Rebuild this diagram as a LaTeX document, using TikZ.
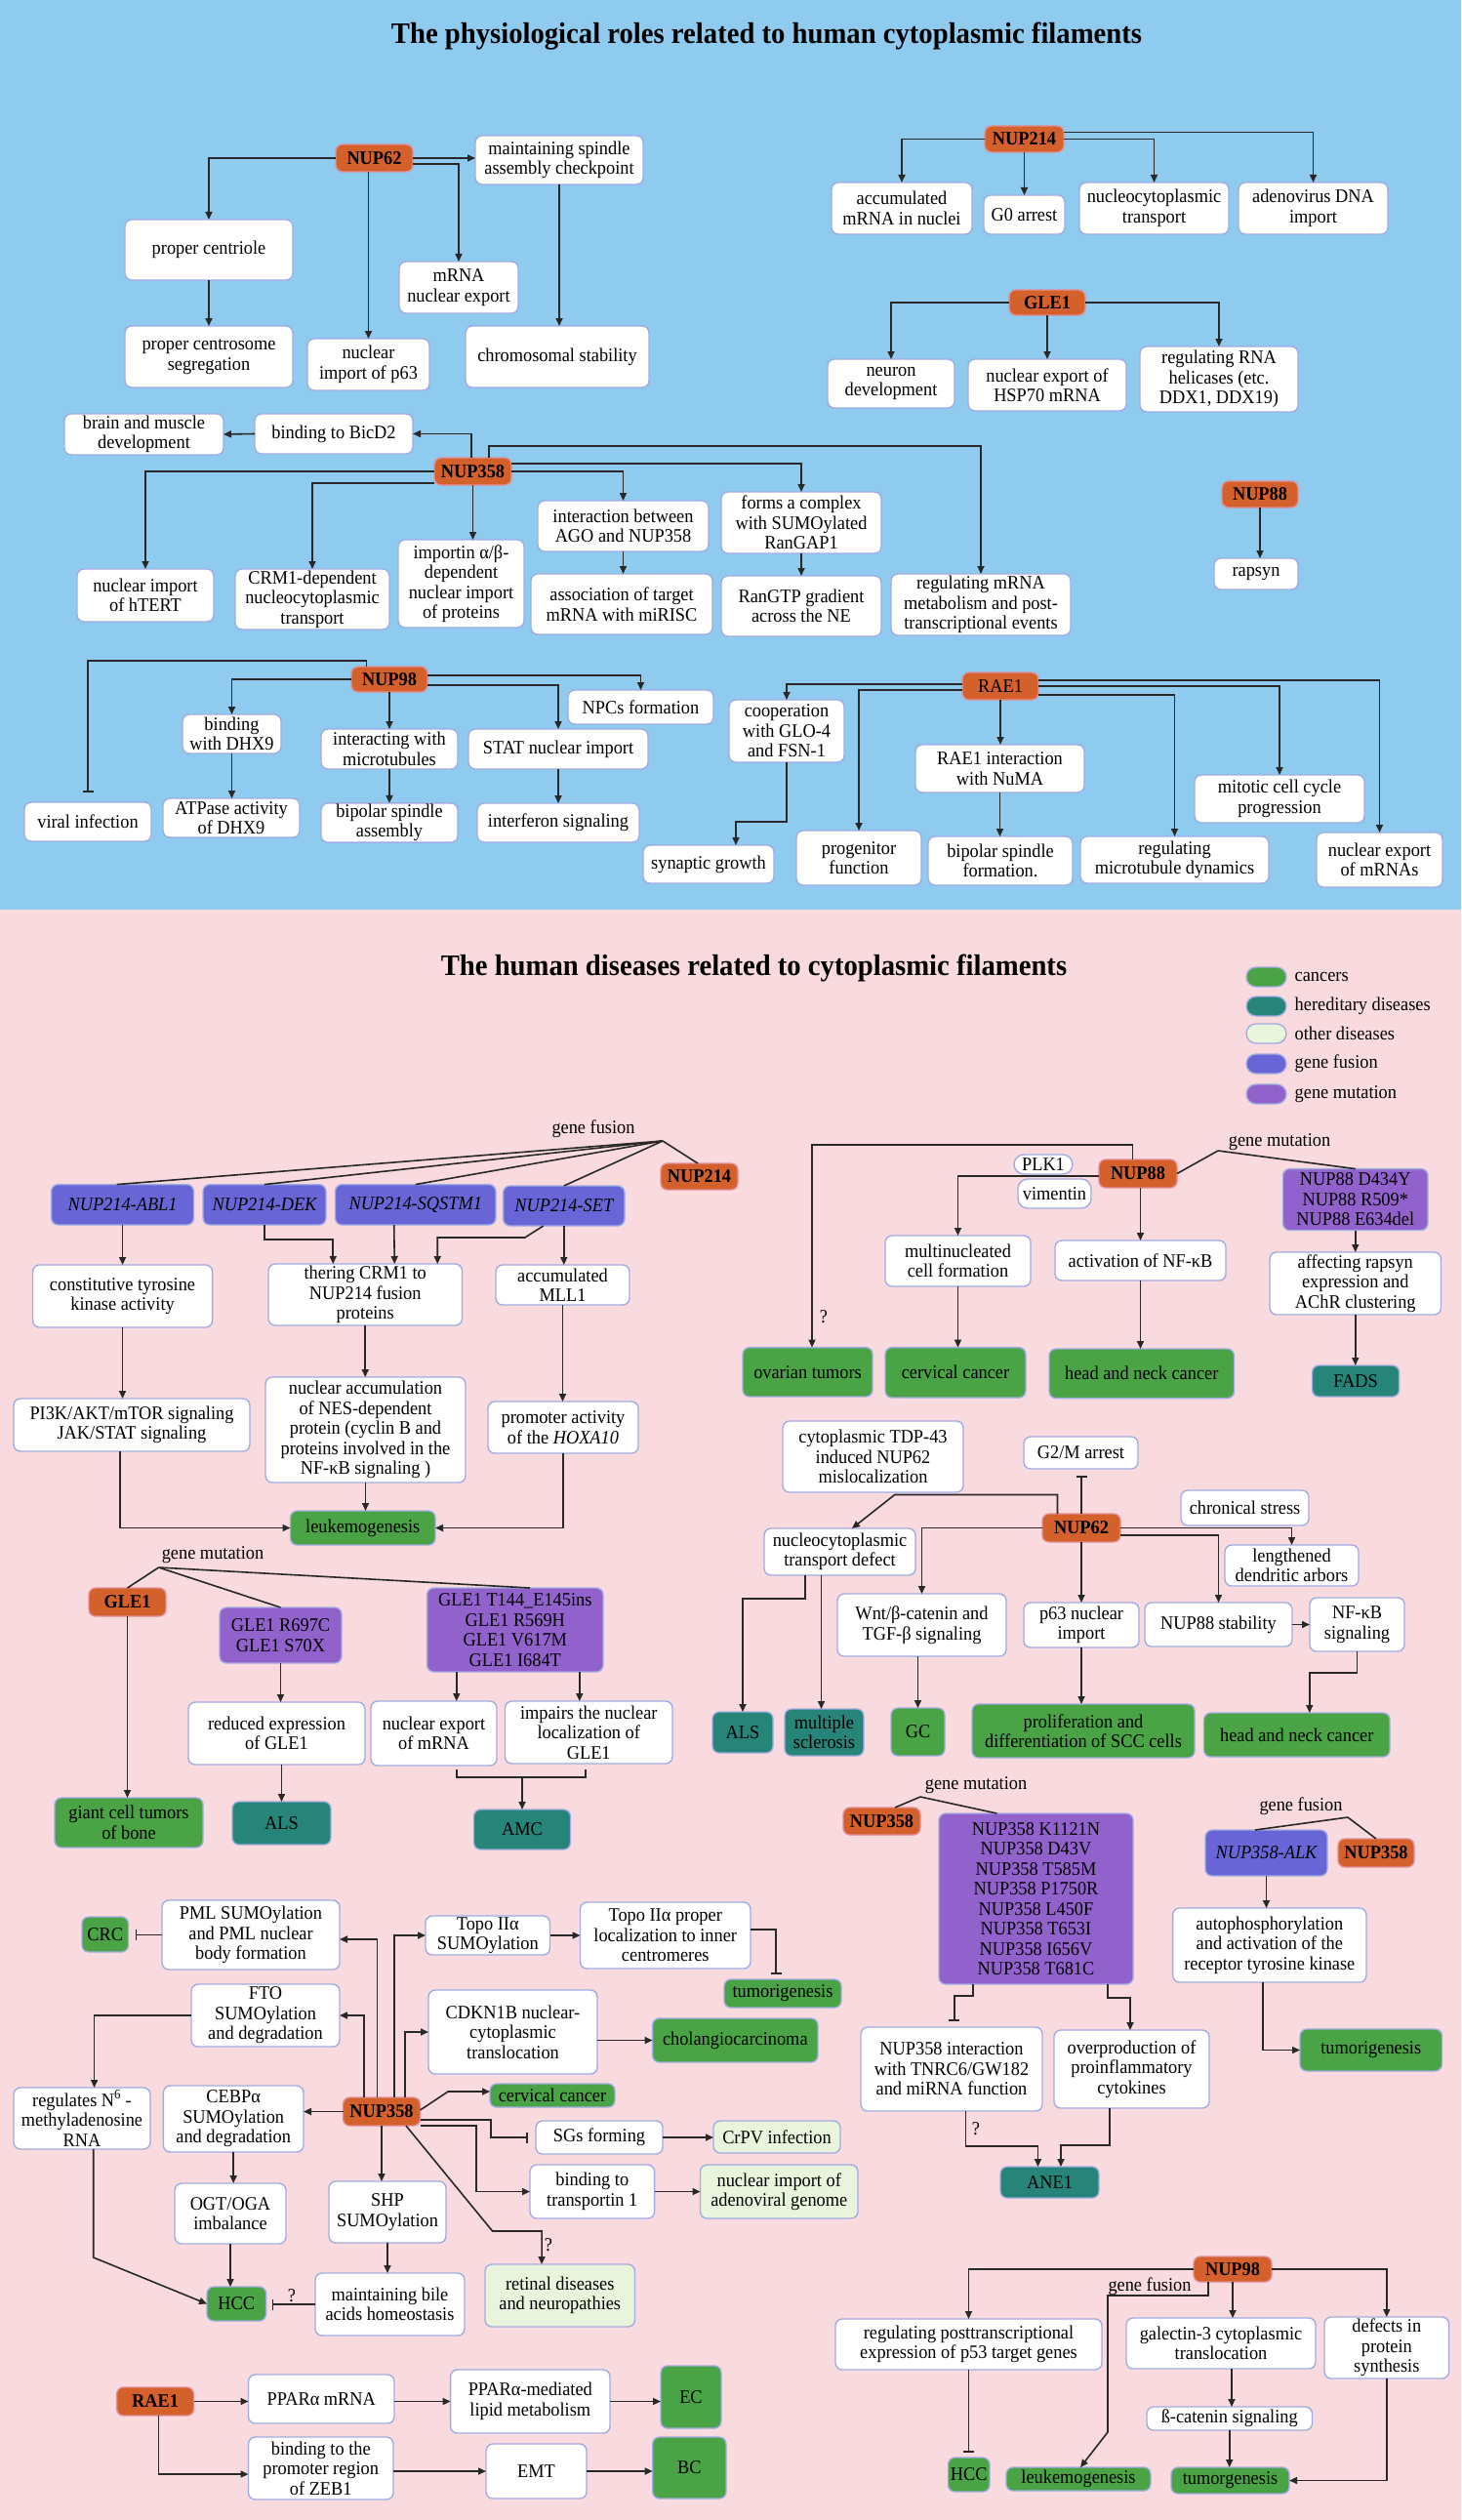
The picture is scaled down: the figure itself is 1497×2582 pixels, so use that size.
\documentclass[tikz,border=0pt]{standalone}
\usepackage{fontspec}
\setmainfont[FakeStretch=0.94]{Liberation Serif}
\usetikzlibrary{arrows.meta}
\definecolor{bluebg}{RGB}{142,203,239}
\definecolor{pinkbg}{RGB}{249,219,223}
\definecolor{orng}{RGB}{212,96,44}
\definecolor{orgbord}{RGB}{226,142,150}
\definecolor{wbord}{RGB}{160,172,225}
\definecolor{fusc}{RGB}{104,102,214}
\definecolor{mutc}{RGB}{146,98,204}
\definecolor{canc}{RGB}{74,163,68}
\definecolor{herc}{RGB}{38,132,120}
\definecolor{othc}{RGB}{232,245,220}
\definecolor{linec}{RGB}{40,40,40}
\newcommand\myfs{\fontsize{19.5pt}{20.5pt}\selectfont}
\newcommand\mkbox[7]{\node[#1, minimum width={(#5)-(#3)}, minimum height={(#6)-(#4)}] (#2) at ({((#3)+(#5))/2},{((#4)+(#6))/2}) {#7};}
\tikzset{
 bx/.style={rectangle, rounded corners=7pt, line width=1.4pt, draw=wbord, align=center, inner sep=1pt, outer sep=0pt, font=\myfs, text=black},
 wb/.style={bx, fill=white},
 org/.style={bx, fill=orng, draw=orgbord, font=\myfs\bfseries},
 orgr/.style={bx, fill=orng, draw=orgbord},
 fus/.style={bx, fill=fusc},
 mut/.style={bx, fill=mutc},
 can/.style={bx, fill=canc},
 her/.style={bx, fill=herc},
 oth/.style={bx, fill=othc},
 pill/.style={bx, fill=white, rounded corners=10pt},
 lbl/.style={font=\myfs, inner sep=0pt},
 ttl/.style={font=\fontsize{30.5pt}{32pt}\selectfont\bfseries, anchor=base, inner sep=0pt},
 arr/.style={draw=linec, line width=1.6pt, -{Triangle[length=8pt,width=7pt]}},
 inh/.style={draw=linec, line width=1.6pt, -{Bar[width=11pt]}},
 ln/.style={draw=linec, line width=1.6pt},
}
\begin{document}
\begin{tikzpicture}[x=1pt,y=-1pt]
\fill[bluebg] (0,0) rectangle (1497,932);
\fill[pinkbg] (0,932) rectangle (1497,2582);
\useasboundingbox (0,0) rectangle (1497,2582);

% ================= TOP PANEL =================
\node[ttl] (ttl1) at (785.5,45) {The physiological roles related to human cytoplasmic filaments};

\mkbox{org}{t62}{344}{148}{423}{176}{NUP62}
\mkbox{wb}{tmsac}{487}{139}{659}{189}{maintaining spindle\\assembly checkpoint}
\mkbox{wb}{tcent}{128}{225}{300}{287}{proper centriole}
\mkbox{wb}{tcseg}{128}{334}{300}{397}{proper centrosome\\segregation}
\mkbox{wb}{tmrna}{409}{268}{531}{321}{mRNA\\nuclear export}
\mkbox{wb}{tp63}{315}{347}{440}{400}{nuclear\\import of p63}
\mkbox{wb}{tchrom}{477}{334}{665}{397}{chromosomal stability}

\mkbox{org}{t214}{1009}{129}{1090}{156}{NUP214}
\mkbox{wb}{tacc}{852}{187}{996}{240}{accumulated\\mRNA in nuclei}
\mkbox{wb}{tg0}{1008}{200}{1091}{240}{G0 arrest}
\mkbox{wb}{tncyt}{1106}{187}{1259}{240}{nucleocytoplasmic\\transport}
\mkbox{wb}{tadeno}{1269}{187}{1422}{240}{adenovirus DNA\\import}
\mkbox{org}{tgle}{1034}{297}{1112}{323}{GLE1}
\mkbox{wb}{tneuron}{848}{368}{978}{418}{neuron\\development}
\mkbox{wb}{thsp}{992}{368}{1154}{421}{nuclear export of\\HSP70 mRNA}
\mkbox{wb}{thel}{1168}{355}{1330}{422}{regulating RNA\\helicases (etc.\\DDX1, DDX19)}

\mkbox{org}{t358}{445}{469}{524}{497}{NUP358}
\mkbox{wb}{tbicd}{261}{424}{423}{465}{binding to BicD2}
\mkbox{wb}{tbrain}{66}{424}{229}{466}{brain and muscle\\development}
\mkbox{wb}{thtert}{79}{583}{219}{637}{nuclear import\\of hTERT}
\mkbox{wb}{tcrm}{241}{583}{399}{645}{CRM1-dependent\\nucleocytoplasmic\\transport}
\mkbox{wb}{timp}{408}{553}{537}{643}{importin α/β-\\dependent\\nuclear import\\of proteins}
\mkbox{wb}{tago}{551}{513}{726}{565}{interaction between\\AGO and NUP358}
\mkbox{wb}{tassoc}{544}{588}{730}{650}{association of target\\mRNA with miRISC}
\mkbox{wb}{tranc}{739}{504}{903}{567}{forms a complex\\with SUMOylated\\RanGAP1}
\mkbox{wb}{trangtp}{739}{590}{903}{652}{RanGTP gradient\\across the NE}
\mkbox{wb}{tregm}{913}{588}{1097}{651}{regulating mRNA\\metabolism and post-\\transcriptional events}
\mkbox{org}{t88}{1252}{493}{1330}{520}{NUP88}
\mkbox{wb}{trapsyn}{1244}{572}{1330}{604}{rapsyn}

\mkbox{org}{t98}{360}{683}{438}{709}{NUP98}
\mkbox{wb}{tviral}{25}{822}{155}{862}{viral infection}
\mkbox{wb}{tdhx}{187}{732}{288}{772}{binding\\with DHX9}
\mkbox{wb}{tatp}{167}{818}{307}{858}{ATPase activity\\of DHX9}
\mkbox{wb}{tmicro}{329}{747}{469}{788}{interacting with\\microtubules}
\mkbox{wb}{tbip}{329}{823}{469}{863}{bipolar spindle\\assembly}
\mkbox{wb}{tnpc}{582}{707}{731}{742}{NPCs formation}
\mkbox{wb}{tstat}{480}{747}{664}{788}{STAT nuclear import}
\mkbox{wb}{tifn}{489}{823}{655}{863}{interferon signaling}

\mkbox{orgr}{trae}{986}{689}{1064}{717}{RAE1}
\mkbox{wb}{tcoop}{747}{717}{865}{781}{cooperation\\with GLO-4\\and FSN-1}
\mkbox{wb}{tsyn}{659}{866}{793}{905}{synaptic growth}
\mkbox{wb}{tprog}{816}{851}{944}{907}{progenitor\\function}
\mkbox{wb}{tnuma}{938}{763}{1111}{812}{RAE1 interaction\\with NuMA}
\mkbox{wb}{tbsf}{951}{857}{1099}{907}{bipolar spindle\\formation.}
\mkbox{wb}{tmcc}{1224}{794}{1398}{843}{mitotic cell cycle\\progression}
\mkbox{wb}{tmtd}{1107}{857}{1300}{905}{regulating\\microtubule dynamics}
\mkbox{wb}{tnexp}{1349}{853}{1478}{909}{nuclear export\\of mRNAs}

\draw[arr] (t62.west) -| (tcent.north);
\draw[arr] (tcent.south) -- (tcseg.north);
\draw[arr] (tp63.north |- t62.south) -- (tp63.north);
\draw[arr] (t62.east) -- (t62.east -| tmsac.west);
\draw[arr] ([yshift=-6pt]t62.east) -| (tmrna.north);
\draw[arr] (tmsac.south) -- (tmsac.south |- tchrom.north);
\draw[arr] (t214.west) -| (tacc.north);
\draw[arr] (t214.south) -- (tg0.north);
\draw[arr] (t214.east) -| (tncyt.north);
\draw[arr] ([yshift=7pt]t214.east) -| (tadeno.north);
\draw[arr] (tgle.west) -| (tneuron.north);
\draw[arr] (tgle.south) -- (thsp.north);
\draw[arr] (tgle.east) -| (thel.north);
\draw[arr] ([xshift=-1.5pt]t358.north) |- (tbicd.east);
\draw[arr] (tbicd.west) -- (tbrain.east);
\draw[arr] ([xshift=16.5pt]t358.north) |- ([yshift=131pt]tregm.north) -- (tregm.north);
\draw[arr] ([yshift=8pt]t358.east) -| (tranc.north);
\draw[arr] (tranc.south) -- (trangtp.north);
\draw[arr] (t358.east) -| (tago.north);
\draw[arr] (tago.south) -- (tago.south |- tassoc.north);
\draw[arr] (t358.south) -- (t358.south |- timp.north);
\draw[arr] (t358.west) -| (thtert.north);
\draw[arr] ([yshift=-12pt]t358.west) -| (tcrm.north);
\draw[arr] (t88.south) -- (t88.south |- trapsyn.north);
\draw[inh, shorten >=10pt] ([xshift=-23.5pt]t98.north) |- ([yshift=145pt]tviral.north) -- (tviral.north);
\draw[arr] (t98.west) -| (tdhx.north);
\draw[arr] (tdhx.south) -- (tdhx.south |- tatp.north);
\draw[arr] (t98.south) -- (tmicro.north);
\draw[arr] (tmicro.south) -- (tbip.north);
\draw[arr] ([yshift=4pt]t98.east) -| (tnpc.north);
\draw[arr] ([yshift=-6pt]t98.east) -| (tstat.north);
\draw[arr] (tstat.south) -- (tstat.south |- tifn.north);
\draw[arr] ([yshift=2pt]trae.west) -| (tcoop.north);
\draw[arr] (tcoop.south) |- ([xshift=28pt,yshift=24pt]tsyn.north) -- ([xshift=28pt]tsyn.north);
\draw[arr] ([yshift=-4pt]trae.west) -| (tprog.north);
\draw[arr] (trae.south) -- (trae.south |- tnuma.north);
\draw[arr] (tnuma.south) -- (tnuma.south |- tbsf.north);
\draw[arr] ([yshift=6pt]trae.east) -| (tnexp.north);
\draw[arr] (trae.east) -| (tmcc.north);
\draw[arr] ([yshift=-9pt]trae.east) -| (tmtd.north);

% ================= BOTTOM PANEL =================
\node[ttl] (ttl2) at (772.5,999) {The human diseases related to cytoplasmic filaments};

\mkbox{pill, fill=canc}{lg1}{1277}{991}{1318}{1011}{}
\mkbox{pill, fill=herc}{lg2}{1277}{1021}{1318}{1041}{}
\mkbox{pill, fill=othc}{lg3}{1277}{1049}{1318}{1069}{}
\mkbox{pill, fill=fusc}{lg4}{1277}{1080}{1318}{1100}{}
\mkbox{pill, fill=mutc}{lg5}{1277}{1111}{1318}{1131}{}
\node[lbl, anchor=west] (lt1) at (1326.5,1001) {cancers};
\node[lbl, anchor=west] (lt2) at (1326.5,1031) {hereditary diseases};
\node[lbl, anchor=west] (lt3) at (1326.5,1059) {other diseases};
\node[lbl, anchor=west] (lt4) at (1326.5,1090) {gene fusion};
\node[lbl, anchor=west] (lt5) at (1326.5,1121) {gene mutation};

% NUP214 fusions
\node[lbl] (lgf1) at (608,1157) {gene fusion};
\coordinate (fan1) at (679,1169);
\mkbox{org}{b214}{677}{1192}{756}{1219}{NUP214}
\mkbox{fus}{fABL}{52.6}{1213.6}{198.5}{1255}{\itshape NUP214-ABL1}
\mkbox{fus}{fDEK}{208}{1213.6}{334}{1255}{\itshape NUP214-DEK}
\mkbox{fus}{fSQ}{343.5}{1213.6}{508}{1255}{\itshape NUP214-SQSTM1}
\mkbox{fus}{fSET}{515.6}{1215}{640}{1256}{\itshape NUP214-SET}
\mkbox{wb}{bconst}{33.5}{1296}{217.6}{1360}{constitutive tyrosine\\kinase activity}
\mkbox{wb}{bther}{275}{1295}{473.5}{1358}{thering CRM1 to\\NUP214 fusion\\proteins}
\mkbox{wb}{bmll}{508}{1296}{645}{1337}{accumulated\\MLL1}
\mkbox{wb}{bpi3k}{14}{1433}{256}{1487}{PI3K/AKT/mTOR signaling\\JAK/STAT signaling}
\mkbox{wb}{bnes}{272}{1411}{477}{1519}{nuclear accumulation\\of NES-dependent\\protein (cyclin B and\\proteins involved in the\\NF-κB signaling )}
\mkbox{wb}{bhox}{500}{1436}{654}{1489}{promoter activity\\of the \textit{HOXA10}}
\mkbox{can}{bleuk1}{297.5}{1548}{446}{1583}{leukemogenesis}

\draw[ln] (fan1) -- ([xshift=-6pt]fABL.north);
\draw[ln] (fan1) -- (fDEK.north);
\draw[ln] (fan1) -- (fSQ.north);
\draw[ln] (fan1) -- (fSET.north);
\draw[ln] (fan1) -- ([xshift=-1.5pt]b214.north);
\draw[arr] (fABL.south) -- (fABL.south |- bconst.north);
\draw[arr] (fDEK.south) -- ++(0,15) -| ([xshift=-33pt]bther.north);
\draw[arr] ([xshift=-22pt]fSQ.south) -- ([xshift=30pt]bther.north);
\draw[arr] ([xshift=-21pt]fSET.south) -- ++(-19,12) -| ([xshift=74pt]bther.north);
\draw[arr] (fSET.south) -- (fSET.south |- bmll.north);
\draw[arr] (bconst.south) -- (bconst.south |- bpi3k.north);
\draw[arr] (bther.south) -- (bther.south |- bnes.north);
\draw[arr] (bmll.south) -- (bmll.south |- bhox.north);
\draw[arr] (bnes.south) -- (bnes.south |- bleuk1.north);
\draw[arr] ([xshift=-12pt]bpi3k.south) |- (bleuk1.west);
\draw[arr] (bhox.south) |- (bleuk1.east);

% GLE1 mutations
\node[lbl] (lgm1) at (218,1593) {gene mutation};
\coordinate (fan2) at (162.6,1606);
\mkbox{org}{bgle}{91}{1627}{170}{1656}{GLE1}
\mkbox{mut}{gR}{225}{1647}{350}{1704}{GLE1 R697C\\GLE1 S70X}
\mkbox{mut}{gT}{437.6}{1627}{618}{1713}{GLE1 T144\_E145ins\\GLE1 R569H\\GLE1 V617M\\GLE1 I684T}
\mkbox{can}{bgct}{56}{1842}{208}{1893}{giant cell tumors\\of bone}
\mkbox{wb}{bred}{193}{1744}{374}{1808}{reduced expression\\of GLE1}
\mkbox{her}{bals1}{238}{1846}{339}{1890}{ALS}
\mkbox{wb}{bnexp}{380}{1743}{509}{1809}{nuclear export\\of mRNA}
\mkbox{wb}{bimp}{517.5}{1743}{689}{1807}{impairs the nuclear\\localization of\\GLE1}
\mkbox{her}{bamc}{485.5}{1854}{584.5}{1895}{AMC}
\draw[ln] (fan2) -- (bgle.north);
\draw[ln] (fan2) -- (gR.north);
\draw[ln] (fan2) -- ([xshift=15pt]gT.north);
\draw[arr] (bgle.south) -- (bgle.south |- bgct.north);
\draw[arr] (gR.south) -- (gR.south |- bred.north);
\draw[arr] (bals1.north |- bred.south) -- (bals1.north);
\draw[arr] ([xshift=-60pt]gT.south) -- ([xshift=-60pt]gT.south |- bnexp.north);
\draw[arr] ([xshift=66pt]gT.south) -- ([xshift=66pt]gT.south |- bimp.north);
\draw[ln] ([xshift=23.5pt,yshift=-4pt]bnexp.south) -- ++(0,8) -| ([xshift=-3pt,yshift=-6pt]bimp.south);
\draw[arr] ([yshift=33pt]bamc.north) -- (bamc.north);

% NUP88
\node[lbl] (lgm2) at (1311,1170) {gene mutation};
\coordinate (fan3) at (1248,1179);
\mkbox{org}{b88}{1126}{1188}{1206}{1217}{NUP88}
\mkbox{mut}{m88}{1314.5}{1197.6}{1463}{1260.5}{NUP88 D434Y\\NUP88 R509*\\NUP88 E634del}
\mkbox{pill}{bplk}{1039}{1183}{1099}{1203}{PLK1}
\mkbox{pill}{bvim}{1043}{1208}{1118}{1238}{vimentin}
\mkbox{wb}{bmulti}{907}{1266}{1056}{1318}{multinucleated\\cell formation}
\mkbox{wb}{bnfkb}{1081}{1271}{1256}{1312}{activation of NF-κB}
\mkbox{wb}{baff}{1301}{1283}{1476.5}{1347}{affecting rapsyn\\expression and\\AChR clustering}
\mkbox{can}{bov}{761}{1380.6}{894}{1431}{ovarian tumors}
\mkbox{can}{bcerv}{907}{1380.6}{1051}{1432}{cervical cancer}
\mkbox{can}{bhn1}{1075}{1382}{1264.5}{1432.6}{head and neck cancer}
\mkbox{her}{bfads}{1344.5}{1399}{1433.6}{1431}{FADS}
\node[lbl] (q1) at (844,1349) {?};
\draw[ln] (fan3) -- (b88.east);
\draw[ln] (fan3) -- (m88.north);
\draw[arr] ([xshift=-5.5pt]b88.north) -- ++(0,-15) -| ([xshift=4.5pt]bov.north);
\draw[arr] ([yshift=-2.5pt]b88.west) -| (bmulti.north);
\draw[arr] (bnfkb.north |- b88.south) -- (bnfkb.north);
\draw[arr] (m88.south) -- (m88.south |- baff.north);
\draw[arr] (bmulti.south) -- (bmulti.south |- bcerv.north);
\draw[arr] (bnfkb.south) -- (bnfkb.south |- bhn1.north);
\draw[arr] (baff.south) -- (baff.south |- bfads.north);

% NUP62
\mkbox{org}{b62}{1068}{1551}{1148}{1580}{NUP62}
\mkbox{wb}{btdp}{802}{1456}{987}{1529}{cytoplasmic TDP-43\\induced NUP62\\mislocalization}
\mkbox{wb}{bg2m}{1049}{1472}{1166}{1505}{G2/M arrest}
\mkbox{wb}{bchron}{1210}{1527}{1341}{1563}{chronical stress}
\mkbox{wb}{bncd}{783}{1566}{938}{1614}{nucleocytoplasmic\\transport defect}
\mkbox{wb}{blen}{1255}{1583}{1392}{1625}{lengthened\\dendritic arbors}
\mkbox{wb}{bwnt}{858}{1633}{1031}{1697}{Wnt/β-catenin and\\TGF-β signaling}
\mkbox{wb}{bp63n}{1049}{1642}{1167}{1688}{p63 nuclear\\import}
\mkbox{wb}{bn88s}{1173}{1642}{1324}{1687}{NUP88 stability}
\mkbox{wb}{bnfs}{1342}{1637}{1439}{1692}{NF-κB\\signaling}
\mkbox{her}{bals2}{730}{1754}{792}{1796}{ALS}
\mkbox{her}{bms}{804}{1751}{885}{1799}{multiple\\sclerosis}
\mkbox{can}{bgc}{913}{1750}{968}{1799}{GC}
\mkbox{can}{bprol}{996}{1746}{1224}{1801}{proliferation and\\differentiation of SCC cells}
\mkbox{can}{bhn2}{1233.5}{1755}{1424}{1800}{head and neck cancer}
\draw[inh, shorten >=7pt] (b62.north) -- (b62.north |- bg2m.south);
\draw[arr] ([xshift=-24.5pt]b62.north) -- ++(0,-19.5) -- ++(-166.8,0) -- ([xshift=12.5pt]bncd.north);
\draw[arr] (b62.east) -| (blen.north);
\draw[arr] ([yshift=-7.5pt]b62.east) -| (bn88s.north);
\draw[arr] (b62.west) -| (bwnt.north);
\draw[arr] (b62.south) -- (b62.south |- bp63n.north);
\draw[arr] (bp63n.south) -- (bp63n.south |- bprol.north);
\draw[arr] (bgc.north |- bwnt.south) -- (bgc.north);
\draw[arr] (bn88s.east) -- (bnfs.west);
\draw[arr] (bnfs.south) -- ++(0,22) -| ([xshift=13pt]bhn2.north);
\draw[arr] ([xshift=-35.5pt]bncd.south) -- ++(0,24) -| (bals2.north);
\draw[arr] ([xshift=-19pt]bncd.south) -- ([xshift=-3pt]bms.north);

% NUP358 mutations
\node[lbl] (lgm3) at (1000,1829) {gene mutation};
\coordinate (fan4) at (943,1841);
\mkbox{org}{b358a}{864}{1852}{943}{1880}{NUP358}
\mkbox{mut}{m358}{962}{1858}{1161}{2033}{NUP358 K1121N\\NUP358 D43V\\NUP358 T585M\\NUP358 P1750R\\NUP358 L450F\\NUP358 T653I\\NUP358 I656V\\NUP358 T681C}
\mkbox{wb}{btnrc}{882}{2077}{1068}{2163}{NUP358 interaction\\with TNRC6/GW182\\and miRNA function}
\mkbox{wb}{bover}{1080}{2080}{1239}{2160}{overproduction of\\proinflammatory\\cytokines}
\mkbox{her}{bane}{1025}{2220}{1126}{2252}{ANE1}
\node[lbl] (q2) at (1000,2181) {?};
\draw[ln] (fan4) -- ([xshift=13.5pt]b358a.north);
\draw[ln] (fan4) -- ([xshift=-40pt]m358.north);
\draw[inh, shorten >=6pt] ([xshift=-64.5pt]m358.south) -- ++(0,12) -| ([xshift=2.7pt]btnrc.north);
\draw[arr] ([xshift=73.5pt]m358.south) -- ++(0,14) -| ([xshift=-1.5pt]bover.north);
\draw[arr] ([xshift=14.6pt]btnrc.south) -- ++(0,36) -| ([xshift=-12pt]bane.north);
\draw[arr] ([xshift=-22.5pt]bover.south) -- ++(0,38) -| ([xshift=11.5pt]bane.north);

% NUP358-ALK
\node[lbl] (lgf2) at (1333,1851) {gene fusion};
\coordinate (fan5) at (1381,1862);
\mkbox{fus}{balk}{1235}{1875}{1360}{1922}{\itshape NUP358-ALK}
\mkbox{org}{b358b}{1371}{1884}{1449}{1913}{NUP358}
\mkbox{wb}{bauto}{1201.6}{1955}{1400}{2031}{autophosphorylation\\and activation of the\\receptor tyrosine kinase}
\mkbox{can}{btum2}{1332}{2079}{1477.5}{2122}{tumorigenesis}
\draw[ln] (fan5) -- ([xshift=-11.5pt]balk.north);
\draw[ln] (fan5) -- (b358b.north);
\draw[arr] (balk.south) -- (balk.south |- bauto.north);
\draw[arr] ([xshift=-7pt]bauto.south) |- (btum2.west);

% NUP358 SUMOylation etc.
\mkbox{can}{bcrc}{84}{1964}{131.5}{2000}{CRC}
\mkbox{wb}{bpml}{166}{1947}{348}{2018}{PML SUMOylation\\and PML nuclear\\body formation}
\mkbox{wb}{btopo}{436}{1963}{563.5}{2003}{Topo IIα\\SUMOylation}
\mkbox{wb}{btopop}{594.5}{1949}{769}{2017}{Topo IIα proper\\localization to inner\\centromeres}
\mkbox{can}{btum1}{742}{2028}{862}{2057}{tumorigenesis}
\mkbox{wb}{bfto}{196}{2033}{348}{2097}{FTO\\SUMOylation\\and degradation}
\mkbox{wb}{bcdk}{439}{2039}{612}{2125}{CDKN1B nuclear-\\cytoplasmic\\translocation}
\mkbox{can}{bchol}{668.6}{2068}{838}{2113}{cholangiocarcinoma}
\mkbox{wb}{bn6}{14}{2139}{154}{2202}{regulates N\textsuperscript{6} -\\methyladenosine\\RNA}
\mkbox{wb}{bcebp}{167.4}{2137}{311}{2205}{CEBPα\\SUMOylation\\and degradation}
\mkbox{org}{b358c}{351.5}{2149}{430.5}{2178}{NUP358}
\mkbox{can}{bcerv2}{502}{2135}{630}{2159}{cervical cancer}
\mkbox{wb}{bsgs}{549}{2173}{679}{2207}{SGs forming}
\mkbox{oth}{bcrpv}{731}{2173}{861}{2206}{CrPV infection}
\mkbox{wb}{btrn}{543}{2218}{670.6}{2273}{binding to\\transportin 1}
\mkbox{oth}{badv}{717.5}{2218}{879}{2273}{nuclear import of\\adenoviral genome}
\mkbox{wb}{bogt}{179}{2237}{293}{2299}{OGT/OGA\\imbalance}
\mkbox{wb}{bshp}{337}{2235}{457}{2298}{SHP\\SUMOylation}
\mkbox{oth}{bret}{497}{2320}{650.5}{2384}{retinal diseases\\and neuropathies}
\mkbox{can}{bhcc1}{212}{2343}{272.6}{2378}{HCC}
\mkbox{wb}{bbile}{323}{2329}{476}{2393}{maintaining bile\\acids homeostasis}
\node[lbl] (q3) at (562,2300) {?};
\node[lbl] (q4) at (299,2352) {?};
\draw[inh, shorten >=7pt] (bpml.west) -- (bpml.west -| bcrc.east);
\draw[arr] ([xshift=-4.5pt]b358c.north) |- ([yshift=-4.5pt]bpml.east);
\draw[arr] ([xshift=-18pt]b358c.north) |- (bfto.east);
\draw[arr] ([xshift=13pt]b358c.north) |- (btopo.west);
\draw[arr] ([xshift=23.7pt]b358c.north) |- (bcdk.west);
\draw[arr] (btopo.east) -- (btopo.east -| btopop.west);
\draw[inh, shorten >=5pt] ([yshift=6pt]btopop.east) -| ([xshift=-7pt]btum1.north);
\draw[arr] (bchol.west -| bcdk.east) -- (bchol.west);
\draw[arr] (bfto.west) -| ([xshift=12.6pt]bn6.north);
\draw[arr] ([yshift=1.5pt]b358c.east) -- ++(28.6,-19) -- ([yshift=4pt]bcerv2.west);
\draw[arr] (b358c.west) -- (b358c.west -| bcebp.east);
\draw[inh, shorten >=8pt] ([yshift=-8.5pt]b358c.east) -- ++(72.5,0) |- (bsgs.west);
\draw[arr] (bsgs.east) -- (bsgs.east -| bcrpv.west);
\draw[arr] ([yshift=-14.5pt]b358c.east) -- ++(57.5,0) |- (btrn.west);
\draw[arr] (btrn.east) -- (btrn.east -| badv.west);
\draw[arr] (b358c.south) -- (b358c.south |- bshp.north);
\draw[arr] (bshp.south) -- (bshp.south |- bbile.north);
\draw[arr] ([xshift=25pt]b358c.south) -- ++(88.6,108) -| ([xshift=-18.7pt]bret.north);
\draw[arr] (bcebp.south) -- (bcebp.south |- bogt.north);
\draw[arr] (bogt.south) -- (bogt.south |- bhcc1.north);
\draw[arr] ([xshift=11.7pt]bn6.south) -- ++(0,111) -- (bhcc1.west);
\draw[inh, shorten >=6pt] (bbile.west) -- (bbile.west -| bhcc1.east);

% RAE1
\mkbox{org}{brae}{119.6}{2446}{198.5}{2475}{RAE1}
\mkbox{wb}{bppm}{254.5}{2433}{404}{2483}{PPARα mRNA}
\mkbox{wb}{bppl}{461.6}{2428}{625}{2493}{PPARα-mediated\\lipid metabolism}
\mkbox{can}{bec}{677}{2424}{739}{2488}{EC}
\mkbox{wb}{bzeb}{254.5}{2497}{403}{2561}{binding to the\\promoter region\\of ZEB1}
\mkbox{wb}{bemt}{498}{2504}{601}{2560}{EMT}
\mkbox{can}{bbc}{668.7}{2497}{744}{2560}{BC}
\draw[arr] (brae.east) -- (brae.east -| bppm.west);
\draw[arr] (bppl.west -| bppm.east) -- (bppl.west);
\draw[arr] (bppl.east) -- (bppl.east -| bec.west);
\draw[arr] ([xshift=3.5pt]brae.south) |- ([yshift=-6pt]bzeb.west);
\draw[arr] (bemt.west -| bzeb.east) -- (bemt.west);
\draw[arr] (bemt.east) -- (bemt.east -| bbc.west);

% NUP98
\node[lbl] (lgf3) at (1178,2343) {gene fusion};
\mkbox{org}{b98}{1223}{2312}{1303}{2338}{NUP98}
\mkbox{wb}{bp53}{856}{2376}{1129}{2428}{regulating posttranscriptional\\expression of p53 target genes}
\mkbox{can}{bhcc2}{971.5}{2518}{1014}{2553}{HCC}
\mkbox{can}{bleuk2}{1031}{2528}{1179}{2552}{leukemogenesis}
\mkbox{wb}{bgal}{1154}{2375}{1348}{2427}{galectin-3 cytoplasmic\\translocation}
\mkbox{wb}{bbcat}{1175}{2466}{1344.5}{2490}{ß-catenin signaling}
\mkbox{can}{btumg}{1200}{2528}{1321}{2555}{tumorgenesis}
\mkbox{wb}{bdef}{1357}{2374}{1484.6}{2437}{defects in\\protein\\synthesis}
\draw[arr] (b98.west) -| (bp53.north);
\draw[inh, shorten >=5pt] (bp53.south) -- (bp53.south |- bhcc2.north);
\draw[arr] ([xshift=-25pt]b98.south) -- ++(0,14) -- ++(-103,0) -- ++(0,140) -- ([xshift=2pt]bleuk2.north);
\draw[arr] (b98.south) -- (b98.south |- bgal.north);
\draw[arr] ([xshift=11pt]bgal.south) -- ([xshift=11pt]bgal.south |- bbcat.north);
\draw[arr] (bbcat.south) -- (bbcat.south |- btumg.north);
\draw[arr] (b98.east) -| (bdef.north);
\draw[arr] (bdef.south) |- (btumg.east);
\end{tikzpicture}
\end{document}
